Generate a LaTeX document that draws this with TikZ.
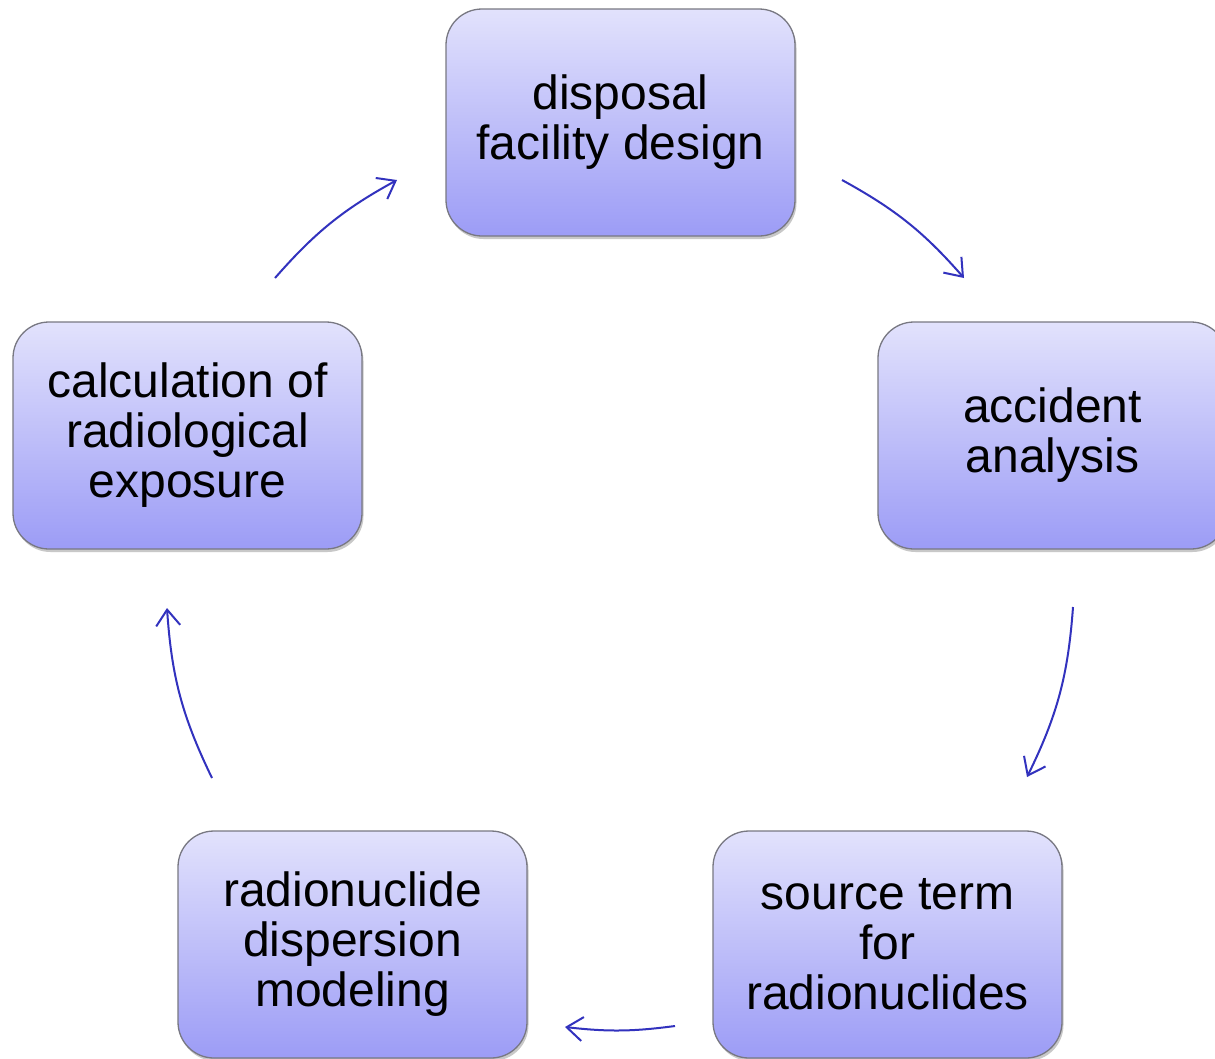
\documentclass[tikz,border=0pt]{standalone}
\usepackage{fontspec}
\setmainfont{Liberation Sans}
\usetikzlibrary{arrows.meta,shadows}
\definecolor{boxtop}{RGB}{226,226,252}
\definecolor{boxbot}{RGB}{156,156,246}
\definecolor{boxline}{RGB}{120,120,130}
\definecolor{arrowc}{RGB}{50,50,190}
\tikzset{
  cyclebox/.style={rectangle, rounded corners=36pt, draw=boxline, line width=1.3pt,
    top color=boxtop, bottom color=boxbot, minimum width=349pt, minimum height=227pt,
    inner sep=0pt, align=center, font=\fontsize{48}{50}\selectfont,
    drop shadow={shadow xshift=1.5pt, shadow yshift=-3pt, opacity=0.3, fill=black!70}},
  cyclearrow/.style={draw=arrowc, line width=2pt,
    -{Straight Barb[length=16pt, width=24pt, line width=2pt]}}
}
\begin{document}
\begin{tikzpicture}[x=1pt,y=-1pt]
\useasboundingbox (0,0) rectangle (1215,1058);
\clip (0,0) rectangle (1215,1058);
\fill[white] (0,0) rectangle (1215,1058);
\node[cyclebox] (design) at (620.5,122.5) {disposal\\facility design};
\node[cyclebox] (accident) at (1052.5,435.5) {accident\\analysis};
\node[cyclebox] (source) at (887.5,944.5) {source term\\for\\radionuclides};
\node[cyclebox] (disp) at (352.5,944.5) {radionuclide\\dispersion\\modeling};
\node[cyclebox] (calc) at (187.5,435.5) {calculation of\\radiological\\exposure};
\coordinate (a1s) at (275,278);
\coordinate (a1e) at (397,180);
\coordinate (a2s) at (842,180);
\coordinate (a2e) at (964,278);
\coordinate (a3s) at (1073,607);
\coordinate (a3e) at (1027,777);
\coordinate (a4s) at (675,1026);
\coordinate (a4e) at (565,1027);
\coordinate (a5s) at (212,778);
\coordinate (a5e) at (167,608);
\draw[cyclearrow] (a1s) to[bend left=10] (a1e);
\draw[cyclearrow] (a2s) to[bend left=10] (a2e);
\draw[cyclearrow] (a3s) to[bend left=11] (a3e);
\draw[cyclearrow] (a4s) to[bend left=7] (a4e);
\draw[cyclearrow] (a5s) to[bend left=11] (a5e);
\end{tikzpicture}
\end{document}
